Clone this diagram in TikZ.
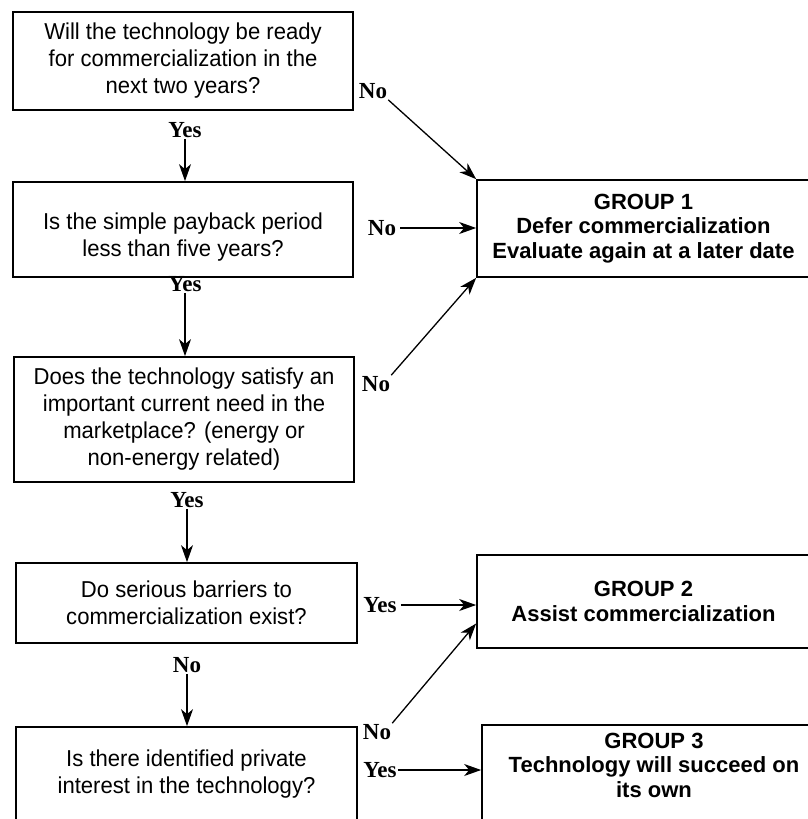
\documentclass[tikz,border=0pt]{standalone}
\usepackage{fontspec}
\setmainfont{Liberation Serif}
\newfontfamily\helv{Liberation Sans}
\newfontfamily\helvc[FakeStretch=0.96]{Liberation Sans}
\usetikzlibrary{arrows.meta}
\begin{document}
\begin{tikzpicture}[x=1pt,y=-1pt,
  qbox/.style={draw, line width=1.7pt, align=center, inner sep=0pt,
    font=\helvc\fontsize{23}{27}\selectfont},
  gbox/.style={draw, line width=1.7pt, align=center, inner sep=0pt,
    font=\helv\bfseries\fontsize{22}{24.5}\selectfont},
  lab/.style={font=\bfseries\fontsize{23}{23}\selectfont, inner sep=1pt},
  arr/.style={line width=1.3pt, -{Stealth[length=17pt,width=12pt,inset=5pt]}}
]
\useasboundingbox (0,0) rectangle (808,819);
% question boxes
\node[qbox, minimum width=340pt, minimum height=98pt] (b1) at (183,61)
  {Will the technology be ready\\for commercialization in the\\next two years?};
\node[qbox, minimum width=340pt, minimum height=95pt] (b2) at (183,229.5)
  {\rule{0pt}{31pt}Is the simple payback period\\less than five years?};
\node[qbox, minimum width=340pt, minimum height=125pt] (b3) at (184,419.5)
  {Does the technology satisfy an\\important current need in the\\marketplace? (energy or\\non-energy related)};
\node[qbox, minimum width=341pt, minimum height=80pt] (b4) at (186.5,603)
  {Do serious barriers to\\commercialization exist?};
\node[qbox, minimum width=341pt, minimum height=95pt] (b5) at (186.5,774.5)
  {Is there identified private\\interest in the technology?};
% group boxes
\node[gbox, minimum width=333pt, minimum height=97pt] (g1) at (643.5,228.5)
  {GROUP 1\\Defer commercialization\\Evaluate again at a later date};
\node[gbox, minimum width=333pt, minimum height=93pt] (g2) at (643.5,601.5)
  {GROUP 2\\Assist commercialization};
\node[gbox, minimum width=344pt, minimum height=97pt] (g3) at (654,773.5)
  {GROUP 3\\Technology will succeed on\\its own\rule[-17pt]{0pt}{0pt}};
% labels
\node[lab] (yes1) at (185,130) {Yes};
\node[lab] (no1) at (373,91) {No};
\node[lab] (no2) at (382,228) {No};
\node[lab] (no3) at (376,384) {No};
\node[lab] (yes2) at (185,284) {Yes};
\node[lab] (yes3) at (187,500) {Yes};
\node[lab] (yes4) at (380,605) {Yes};
\node[lab] (no4) at (187,665) {No};
\node[lab] (no5) at (377,732) {No};
\node[lab] (yes5) at (380,770) {Yes};
% connectors
\draw[arr] (yes1.south) -- (yes1.south |- b2.north);
\draw[arr] (yes2.south) -- (yes2.south |- b3.north);
\draw[arr] (yes3.south) -- (yes3.south |- b4.north);
\draw[arr] (no4.south) -- (no4.south |- b5.north);
\draw[arr] (no1.south east) -- (g1.north west);
\draw[arr] ([xshift=3pt]no2.east) -- (no2.east -| g1.west);
\draw[arr] (no3.north east) -- (g1.south west);
\draw[arr] ([xshift=3pt]yes4.east) -- (yes4.east -| g2.west);
\draw[arr] (no5.north east) -- ([yshift=-22pt]g2.west);
\draw[arr] (yes5.east) -- (yes5.east -| g3.west);
\end{tikzpicture}
\end{document}
